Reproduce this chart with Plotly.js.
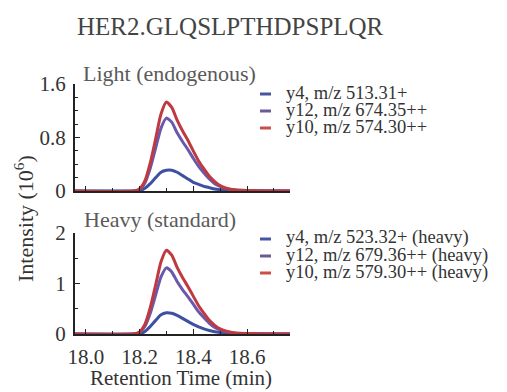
<!DOCTYPE html>
<html>
<head>
<meta charset="utf-8">
<script src="https://cdn.plot.ly/plotly-3.0.1.min.js"></script>
<style>html,body{margin:0;padding:0;background:#fff;}#chart{width:507px;height:392px;}</style>
</head>
<body>
<div id="chart"></div>
<script>
// Retention times (min)
const times = [17.96, 18.18, 18.20, 18.22, 18.24, 18.26, 18.28, 18.30, 18.32, 18.34, 18.36, 18.38, 18.40, 18.42, 18.44, 18.46, 18.48, 18.50, 18.52, 18.55, 18.60, 18.76];

// Light (endogenous), intensity in 10^6
const lightY4  = [0, 0, 0.00, 0.04, 0.11, 0.20, 0.28, 0.31, 0.31, 0.28, 0.23, 0.18, 0.13, 0.10, 0.07, 0.05, 0.03, 0.02, 0.012, 0.005, 0.00, 0];
const lightY12 = [0, 0, 0.02, 0.12, 0.34, 0.64, 0.94, 1.09, 1.03, 0.87, 0.74, 0.62, 0.49, 0.37, 0.27, 0.18, 0.11, 0.07, 0.04, 0.017, 0.006, 0];
const lightY10 = [0, 0, 0.03, 0.15, 0.42, 0.78, 1.15, 1.33, 1.25, 1.06, 0.90, 0.76, 0.60, 0.45, 0.33, 0.22, 0.14, 0.08, 0.045, 0.02, 0.008, 0];

// Heavy (standard), intensity in 10^6
const heavyY4  = [0, 0, 0.00, 0.05, 0.15, 0.27, 0.38, 0.42, 0.41, 0.37, 0.31, 0.25, 0.19, 0.14, 0.10, 0.07, 0.045, 0.03, 0.018, 0.008, 0.002, 0];
const heavyY12 = [0, 0, 0.03, 0.15, 0.41, 0.77, 1.13, 1.31, 1.23, 1.04, 0.88, 0.74, 0.59, 0.44, 0.32, 0.21, 0.13, 0.08, 0.05, 0.02, 0.008, 0];
const heavyY10 = [0, 0, 0.04, 0.19, 0.52, 0.97, 1.43, 1.66, 1.56, 1.32, 1.12, 0.94, 0.75, 0.56, 0.41, 0.27, 0.17, 0.10, 0.06, 0.025, 0.01, 0];

const lightNames = ["y4, m/z 513.31+", "y12, m/z 674.35++", "y10, m/z 574.30++"];
const heavyNames = ["y4, m/z 523.32+ (heavy)", "y12, m/z 679.36++ (heavy)", "y10, m/z 579.30++ (heavy)"];

const xTickVals = [18.0, 18.2, 18.4, 18.6];
const xTickText = ["18.0", "18.2", "18.4", "18.6"];
const lightTickVals = [0, 0.8, 1.6];
const lightTickText = ["0", "0.8", "1.6"];
const heavyTickVals = [0, 1, 2];
const heavyTickText = ["0", "1", "2"];

const lineColors = ["#3d50a2", "#6a58ac", "#bf3940"];
const legendColors = ["#4656a0", "#6a5a96", "#c8504a"];
const FONT = "Liberation Serif, Times New Roman, serif";
const TXT = "#333333";

const traces = [];
[lightY4, lightY12, lightY10].forEach((y, i) => traces.push({
  x: times, y: y, type: "scatter", mode: "lines", name: lightNames[i],
  xaxis: "x2", yaxis: "y2", line: {color: lineColors[i], width: 3, shape: "spline", smoothing: 0.6},
  showlegend: false, hoverinfo: "skip"
}));
[heavyY4, heavyY12, heavyY10].forEach((y, i) => traces.push({
  x: times, y: y, type: "scatter", mode: "lines", name: heavyNames[i],
  xaxis: "x", yaxis: "y", line: {color: lineColors[i], width: 3, shape: "spline", smoothing: 0.6},
  showlegend: false, hoverinfo: "skip"
}));

const W = 507, H = 392;
const px = v => v / W, py = v => 1 - v / H;

const xDomain = [px(75), px(290)];
const xRange = [17.96, 18.76];

const axisCommon = {
  showgrid: false, zeroline: false, showline: true, linecolor: "#222", linewidth: 2,
  ticks: "inside", ticklen: 5, tickwidth: 1, tickcolor: "#222", ticklabelstandoff: 3,
  tickfont: {family: FONT, size: 21, color: TXT}, fixedrange: true
};

const annotations = [
  {text: "HER2.GLQSLPTHDPSPLQR", x: px(75), y: py(27), xref: "paper", yref: "paper", xanchor: "left", yanchor: "middle", showarrow: false, font: {family: FONT, size: 25, color: "#444"}},
  {text: "Light (endogenous)", x: px(81), y: py(74), xref: "paper", yref: "paper", xanchor: "left", yanchor: "middle", showarrow: false, font: {family: FONT, size: 22, color: "#5a5a5a"}},
  {text: "Heavy (standard)", x: px(82), y: py(219), xref: "paper", yref: "paper", xanchor: "left", yanchor: "middle", showarrow: false, font: {family: FONT, size: 22, color: "#5a5a5a"}},
  {text: "Intensity (10<sup>6</sup>)", x: px(24), y: py(219), xref: "paper", yref: "paper", xanchor: "center", yanchor: "middle", textangle: -90, showarrow: false, font: {family: FONT, size: 22, color: TXT}},
  {text: "Retention Time (min)", x: px(181), y: py(378), xref: "paper", yref: "paper", xanchor: "center", yanchor: "middle", showarrow: false, font: {family: FONT, size: 21, color: TXT}}
];
const shapes = [];
const topRows = [93, 110, 127], botRows = [238, 255, 272];
lightNames.forEach((n, i) => {
  annotations.push({text: n, x: px(285), y: py(topRows[i]), xref: "paper", yref: "paper", xanchor: "left", yanchor: "middle", showarrow: false, borderpad: 0, font: {family: FONT, size: 18.5, color: TXT}});
  shapes.push({type: "line", xref: "paper", yref: "paper", x0: px(260), x1: px(271), y0: py(topRows[i] + 1), y1: py(topRows[i] + 1), line: {color: legendColors[i], width: 3}});
});
heavyNames.forEach((n, i) => {
  annotations.push({text: n, x: px(285), y: py(botRows[i]), xref: "paper", yref: "paper", xanchor: "left", yanchor: "middle", showarrow: false, borderpad: 0, font: {family: FONT, size: 18.5, color: TXT}});
  shapes.push({type: "line", xref: "paper", yref: "paper", x0: px(260), x1: px(271), y0: py(botRows[i] + 1), y1: py(botRows[i] + 1), line: {color: legendColors[i], width: 3}});
});

const layout = {
  width: W, height: H, margin: {l: 0, r: 0, t: 0, b: 0},
  paper_bgcolor: "#fff", plot_bgcolor: "rgba(0,0,0,0)", showlegend: false,
  xaxis: Object.assign({}, axisCommon, {domain: xDomain, range: xRange, anchor: "y",
    tickvals: xTickVals, ticktext: xTickText,
    minor: {dtick: 0.1, tick0: 18.0, ticks: "inside", ticklen: 3, tickcolor: "#222"}}),
  xaxis2: Object.assign({}, axisCommon, {domain: xDomain, range: xRange, anchor: "y2",
    tickvals: xTickVals, showticklabels: false,
    minor: {dtick: 0.1, tick0: 18.0, ticks: "inside", ticklen: 3, tickcolor: "#222"}}),
  yaxis: Object.assign({}, axisCommon, {domain: [py(334), py(233)], range: [0, 2], anchor: "x",
    tickvals: heavyTickVals, ticktext: heavyTickText,
    minor: {dtick: 0.5, tick0: 0, ticks: "inside", ticklen: 3, tickcolor: "#222"}}),
  yaxis2: Object.assign({}, axisCommon, {domain: [py(191), py(84)], range: [0, 1.6], anchor: "x2",
    tickvals: lightTickVals, ticktext: lightTickText,
    minor: {dtick: 0.2, tick0: 0, ticks: "inside", ticklen: 3, tickcolor: "#222"}}),
  annotations: annotations, shapes: shapes
};

Plotly.newPlot("chart", traces, layout, {staticPlot: true, displayModeBar: false});
</script>
</body>
</html>
